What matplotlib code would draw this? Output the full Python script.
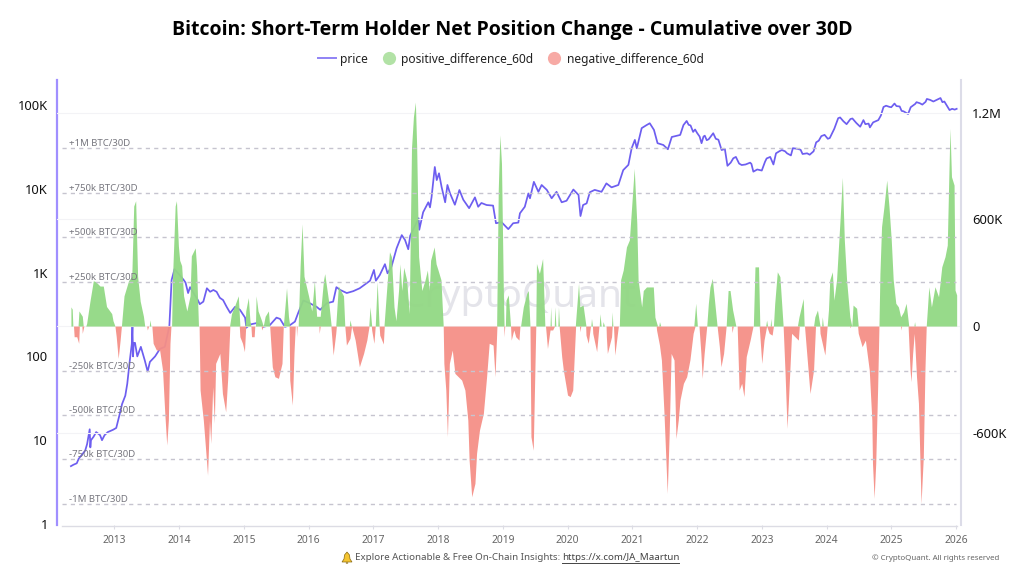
import matplotlib
matplotlib.use("Agg")
import matplotlib.pyplot as plt
from matplotlib.lines import Line2D
from matplotlib.patches import Polygon, Circle

plt.rcParams['font.family'] = ['Noto Sans', 'DejaVu Sans']

title = "Bitcoin: Short-Term Holder Net Position Change - Cumulative over 30D"
year_ticks = list(range(2013, 2027))
price_ticks = [1, 10, 100, 1000, 10000, 100000]
price_labels = ["1", "10", "100", "1K", "10K", "100K"]
net_ticks = [-600000, 0, 600000, 1200000]
net_labels = ["-600K", "0", "600K", "1.2M"]
ref_levels = [1000000, 750000, 500000, 250000, -250000, -500000, -750000, -1000000]
ref_labels = ["+1M BTC/30D", "+750k BTC/30D", "+500k BTC/30D", "+250k BTC/30D",
              "-250k BTC/30D", "-500k BTC/30D", "-750k BTC/30D", "-1M BTC/30D"]

price_dates = [2012.33,2012.37,2012.42,2012.45,2012.5,2012.55,2012.58,2012.6,2012.62,2012.63,2012.64,2012.68,2012.72,2012.78,2012.81,2012.85,2012.9,2012.98,
 2013.03,2013.08,2013.12,2013.17,2013.2,2013.24,2013.27,2013.28,2013.29,2013.3,2013.32,2013.355,2013.41,2013.47,2013.515,2013.55,2013.63,2013.705,2013.78,2013.85,2013.885,
 2013.93,2014.07,2014.1,2014.14,2014.17,2014.29,2014.32,2014.375,2014.43,2014.48,2014.53,2014.58,2014.63,2014.68,2014.735,2014.79,2014.865,2014.94,2015.02,2015.04,2015.095,2015.2,2015.30,2015.40,2015.505,2015.56,2015.635,2015.71,2015.79,2015.84,2015.92,
 2016.02,2016.125,2016.18,2016.28,2016.38,2016.43,2016.49,2016.59,2016.69,2016.79,2016.90,2016.95,2017.01,2017.04,2017.10,2017.18,2017.22,2017.28,2017.36,2017.44,2017.49,2017.54,2017.57,2017.70,2017.71,2017.77,2017.85,2017.876,2017.90,2017.95,2017.98,
 2018.015,2018.055,2018.11,2018.145,2018.185,2018.26,2018.33,2018.39,2018.48,2018.57,2018.62,2018.67,2018.75,2018.85,2018.895,2018.98,2019.085,2019.16,2019.24,2019.265,2019.34,2019.395,2019.42,2019.48,2019.55,2019.60,2019.68,2019.755,2019.83,2019.91,2019.985,
 2020.09,2020.17,2020.20,2020.24,2020.295,2020.345,2020.42,2020.525,2020.60,2020.68,2020.785,2020.86,2020.94,2020.99,2021.04,2021.07,2021.145,2021.22,2021.27,2021.335,2021.39,2021.48,2021.55,2021.61,2021.74,2021.79,2021.84,
 2021.87,2021.90,2021.94,2021.97,2022.0,2022.04,2022.07,2022.10,2022.12,2022.15,2022.18,2022.25,2022.29,2022.33,2022.38,2022.43,2022.47,2022.52,2022.56,2022.6,2022.65,2022.69,2022.75,2022.82,2022.84,2022.87,2022.93,
 2023.0,2023.05,2023.075,2023.13,2023.18,2023.22,2023.27,2023.31,2023.36,2023.39,2023.45,2023.48,2023.55,2023.6,2023.63,2023.7,2023.74,2023.80,2023.84,2023.88,2023.92,2023.97,
 2024.02,2024.05,2024.12,2024.18,2024.21,2024.26,2024.31,2024.37,2024.4,2024.46,2024.52,2024.57,2024.6,2024.65,2024.67,2024.72,2024.8,2024.84,2024.88,2024.92,2024.97,
 2025.0,2025.05,2025.08,2025.13,2025.16,2025.19,2025.26,2025.3,2025.37,2025.39,2025.44,2025.48,2025.53,2025.55,2025.6,2025.65,2025.7,2025.76,2025.79,2025.82,2025.87,2025.90,2025.94,2025.98,2026.01]
price_usd = [4.9,5.1,5.3,6,6.7,7.5,9,11,13.5,8.2,10,11,12.5,11.5,10,11.5,12.5,13.3,
 14,20,27,34,47,90,140,225,100,145,145,100,130,90,66,86,100,123,130,228,815,
 1100,820,760,570,670,470,420,450,650,590,620,590,500,470,390,330,390,360,290,220,240,250,225,235,290,280,225,235,260,330,465,
 430,390,360,430,450,670,620,570,600,650,750,800,1075,800,935,1260,980,1170,1950,2800,2450,1900,2750,4450,3240,5250,6900,6000,7950,18200,12700,
 15300,10500,6900,11100,8830,6450,9670,7400,5870,7900,6100,6770,6400,6300,3880,4000,3300,3880,3950,5100,6100,8800,7700,12100,9200,11100,9700,7700,9200,6900,7200,
 9800,8430,4730,6400,6700,9100,9700,9200,11600,10400,11100,16700,19300,30400,38300,30400,52900,57500,60500,50400,35000,33300,29600,41500,43900,57500,64500,
 58000,57000,47700,51000,46500,42000,35000,42000,43000,38000,39000,46000,39500,38500,29000,29800,18800,20500,23100,24000,20000,19200,19500,20500,19800,16000,17000,
 16500,21000,23000,24000,19500,26500,28000,29000,28000,26500,25000,30500,30000,29200,26000,26500,25500,28000,35800,37500,42500,44000,
 39500,40300,52000,69500,71000,64000,59000,68000,69000,61000,55000,66000,59000,60000,54000,62000,66000,75000,94600,98000,95000,
 94000,104000,97000,96000,85000,84000,78000,94000,103000,108000,105000,101000,109000,118000,115000,110000,115000,121000,108000,110000,95000,87000,90000,88000,90000]

pos_dates = [2012.33,2012.35,2012.36,2012.44,2012.454,2012.506,2012.52,2012.56,2012.573,2012.624,2012.676,2012.712,2012.78,2012.83,2012.88,2012.93,2012.96,2012.98,2013.01,
 2013.11,2013.15,2013.22,2013.27,2013.30,2013.33,2013.36,2013.40,2013.45,2013.47,2013.54,2013.55,2013.565,
 2013.885,2013.90,2013.94,2013.96,2013.99,2014.01,2014.04,2014.07,2014.12,2014.17,2014.19,2014.25,2014.27,2014.30,
 2014.78,2014.81,2014.86,2014.915,2014.94,2015.02,2015.03,2015.07,2015.095,2015.11,2015.18,2015.19,2015.22,2015.25,2015.275,2015.30,2015.33,2015.38,2015.40,
 2015.61,2015.66,2015.69,2015.71,2015.84,2015.87,2015.90,2015.93,2016.0,2016.05,2016.09,2016.125,2016.18,2016.23,2016.25,2016.31,2016.35,2016.42,2016.46,2016.54,2016.56,2016.63,2016.64,2016.66,
 2016.93,2016.95,2016.975,2017.03,2017.06,2017.09,2017.165,2017.205,2017.25,2017.28,2017.32,2017.35,2017.39,2017.41,2017.44,2017.47,2017.515,2017.555,2017.59,2017.62,2017.65,2017.67,2017.70,2017.75,2017.80,2017.835,2017.865,2017.885,2017.94,2017.97,2018.0,2018.045,2018.08,
 2018.905,2018.93,2018.955,2018.98,2019.01,2019.02,2019.04,2019.05,2019.085,2019.12,2019.275,2019.317,2019.37,2019.395,2019.42,2019.51,2019.52,2019.565,2019.615,2019.65,2019.73,2019.74,2019.75,2019.795,2019.805,2019.82,2019.85,2019.86,2019.875,
 2020.12,2020.13,2020.17,2020.19,2020.24,2020.285,2020.36,2020.37,2020.385,2020.49,2020.50,2020.52,2020.54,2020.55,2020.57,2020.68,2020.69,2020.70,
 2020.80,2020.82,2020.86,2020.91,2020.955,2020.99,2021.03,2021.07,2021.09,2021.145,2021.17,2021.22,2021.27,2021.325,2021.35,2021.39,2021.41,2021.42,2021.44,
 2021.95,2021.98,2022.005,2022.15,2022.175,2022.2,2022.236,2022.27,2022.31,2022.45,2022.48,2022.51,2022.55,2022.60,2022.87,2022.895,2022.95,2022.97,2023.06,2023.075,2023.09,2023.13,2023.14,2023.15,2023.18,2023.20,2023.24,2023.28,2023.33,
 2023.55,2023.575,2023.64,2023.655,2023.80,2023.82,2023.86,2023.90,2023.925,2023.935,2023.95,2024.01,2024.03,2024.05,2024.09,2024.115,2024.155,2024.21,2024.245,2024.275,2024.31,2024.36,2024.39,2024.41,2024.465,2024.49,
 2024.81,2024.825,2024.85,2024.887,2024.93,2024.965,2025.0,2025.03,2025.07,2025.11,2025.145,2025.19,2025.23,2025.27,2025.35,2025.36,2025.37,
 2025.54,2025.56,2025.58,2025.62,2025.675,2025.73,2025.78,2025.83,2025.865,2025.89,2025.907,2025.93,2025.97,2025.985,2026.01]
pos_k = [108,95,0,0,85,55,0,0,15,140,255,250,225,225,110,85,70,30,0,
 0,170,255,280,675,705,280,140,55,0,0,35,0,
 0,280,675,705,450,370,340,170,85,170,395,440,340,0,
 0,70,115,170,0,0,85,160,30,0,0,170,85,55,30,0,55,85,0,
 0,215,55,0,0,340,575,280,170,85,255,55,55,255,295,140,0,0,225,170,0,0,35,0,
 0,108,0,0,250,0,0,200,418,390,108,30,200,350,200,330,260,70,1000,1177,1260,1010,390,200,260,315,200,370,445,350,315,260,0,
 0,765,1075,915,165,0,0,146,175,0,0,108,184,200,0,0,352,296,380,0,0,108,0,0,108,0,0,108,0,
 0,50,240,108,118,0,0,43,0,0,70,0,0,25,0,0,80,0,
 0,260,315,445,484,670,887,577,260,108,200,220,220,220,50,0,0,25,0,
 0,128,0,0,128,220,268,146,0,0,200,200,90,0,0,333,333,0,0,34,0,0,43,0,0,128,305,278,0,
 0,52,155,0,0,52,90,0,0,52,0,0,90,260,305,146,260,605,836,484,260,52,0,118,100,0,
 0,296,559,671,821,671,484,260,128,108,52,80,128,0,0,25,0,
 0,108,221,108,221,165,333,390,455,858,1112,840,793,202,175]

neg_dates = [2012.37,2012.38,2012.42,2012.45,2012.46,2012.5,2012.505,2012.53,
 2013.01,2013.03,2013.06,2013.09,2013.11,2013.5,2013.51,2013.53,2013.58,2013.60,2013.65,2013.70,2013.745,2013.78,2013.81,2013.835,2013.86,2013.875,
 2014.31,2014.325,2014.375,2014.415,2014.44,2014.47,2014.49,2014.52,2014.545,2014.565,2014.63,2014.67,2014.72,2014.75,2014.785,
 2014.93,2014.94,2014.98,2015.01,2015.03,2015.11,2015.12,2015.16,2015.17,2015.27,2015.275,2015.30,
 2015.40,2015.44,2015.48,2015.535,2015.59,2015.61,2015.70,2015.71,2015.75,2015.775,2015.795,2015.81,2015.815,2015.825,
 2016.16,2016.165,2016.18,2016.345,2016.38,2016.42,2016.43,2016.56,2016.585,2016.64,2016.665,2016.72,2016.785,2016.85,2016.90,2016.935,
 2016.97,2016.975,2017.01,2017.03,2017.09,2017.10,2017.155,2017.17,
 2018.08,2018.09,2018.12,2018.145,2018.175,2018.22,2018.26,2018.365,2018.415,2018.46,2018.48,2018.52,2018.57,2018.595,2018.64,2018.70,2018.75,2018.79,2018.85,2018.88,2018.91,
 2019.015,2019.02,2019.03,2019.12,2019.13,2019.17,2019.2,2019.25,2019.265,2019.42,2019.435,2019.47,2019.51,
 2019.66,2019.69,2019.73,2019.77,2019.80,2019.87,2019.91,2019.935,2020.0,2020.04,2020.08,2020.125,2020.185,2020.19,2020.205,2020.28,2020.285,2020.32,2020.355,2020.385,2020.39,2020.45,2020.485,
 2020.595,2020.60,2020.615,2020.68,2020.69,2020.71,2020.73,2020.785,
 2021.37,2021.375,2021.42,2021.45,2021.49,2021.515,2021.54,2021.57,2021.60,2021.645,2021.675,2021.71,2021.737,2021.79,2021.84,2021.89,2021.94,2021.97,
 2022.03,2022.06,2022.08,2022.11,2022.15,2022.31,2022.345,2022.37,2022.41,2022.45,2022.535,2022.54,2022.56,2022.62,2022.65,2022.69,2022.725,2022.76,2022.82,2022.865,
 2022.96,2023.0,2023.035,2023.075,2023.115,2023.16,2023.18,2023.33,2023.36,2023.39,2023.41,2023.46,2023.565,2023.58,2023.66,2023.69,2023.745,2023.80,2023.83,2023.895,2023.90,2023.975,2024.01,
 2024.355,2024.36,2024.375,2024.48,2024.49,2024.55,2024.60,2024.66,2024.70,2024.71,2024.735,2024.76,2024.79,2024.81,
 2025.145,2025.15,2025.16,2025.26,2025.29,2025.305,2025.33,2025.355,2025.39,2025.42,2025.44,2025.46,2025.495,2025.52,2025.54]
neg_k = [0,60,60,97,0,0,41,0,
 0,60,182,79,0,0,22,0,0,97,135,135,247,491,669,529,97,0,
 0,360,529,716,838,529,660,341,547,210,154,379,482,304,0,
 0,60,97,144,0,0,60,60,0,0,22,0,
 0,229,285,294,210,0,0,304,444,154,0,0,60,0,
 0,41,0,0,163,41,0,0,107,69,0,79,229,154,79,0,
 0,22,97,0,0,51,101,0,
 0,210,360,622,210,135,266,304,360,529,754,960,885,716,585,491,285,97,107,285,0,
 0,60,0,0,79,22,60,79,0,0,622,698,0,
 0,126,22,22,0,0,172,247,388,397,360,0,0,32,0,0,51,97,0,0,41,144,0,
 0,60,154,60,0,0,163,0,
 0,22,107,191,491,716,941,604,154,191,632,529,416,322,285,191,41,0,
 0,154,294,154,0,0,116,229,154,0,0,37,0,0,360,322,397,172,79,0,
 0,210,79,0,41,51,0,0,266,575,435,41,79,0,0,135,379,247,0,0,41,163,0,
 0,8,0,0,41,116,79,247,529,772,969,772,341,0,
 0,22,0,0,247,313,154,41,285,435,716,998,735,247,0]

GREEN = "#92d884"
RED = "#f58f87"
PURPLE = "#6d5ef0"

fig = plt.figure(figsize=(10.24, 5.76), dpi=100, facecolor="white")
ax = fig.add_axes([57/1024, 1-525/576, (961-57)/1024, (525-80)/576], zorder=1)
ax.patch.set_alpha(0)
ax.set_xlim(2012.115, 2026.077)
ax.set_yscale("log")
ax.set_ylim(10**-0.012, 10**5.298)
ax.plot(price_dates, price_usd, color=PURPLE, lw=1.25, zorder=2)
ax.set_yticks(price_ticks)
ax.set_yticklabels(price_labels, fontsize=9.3, color="#111111")
ax.minorticks_off()
ax.tick_params(axis="y", length=0, pad=6.5)
ax.set_xticks(year_ticks)
ax.set_xticklabels([str(y) for y in year_ticks], fontsize=7.4, color="#666666")
ax.tick_params(axis="x", length=3, color="#dcdce4", pad=4, width=0.8)
for s in ["top", "right", "bottom"]:
    ax.spines[s].set_visible(False)
ax.spines["left"].set_color("#a08fff")
ax.spines["left"].set_linewidth(1.6)

ax2 = ax.twinx()
ax2.set_zorder(2)
ax2.patch.set_alpha(0)
ax2.set_ylim(-1119000, 1384000)
for v in net_ticks:
    ax2.axhline(v, color="#f3f3f6", lw=0.8, zorder=1)
ax2.fill_between(pos_dates, 0, [k*1000 for k in pos_k], color=GREEN, lw=0, alpha=0.95, zorder=3)
ax2.fill_between(neg_dates, 0, [-k*1000 for k in neg_k], color=RED, lw=0, alpha=0.95, zorder=3)
ax2.set_xlim(ax.get_xlim())
ax2.hlines(ref_levels, 2012.19, 2026.0, color="#c6c4cf", lw=1.0, linestyles=(0, (3, 3)), zorder=4)
for lv, lb in zip(ref_levels, ref_labels):
    ax2.annotate(lb, (2012.30, lv), xytext=(0, 0), textcoords="offset points",
                 fontsize=6.9, color="#77777f", va="bottom", zorder=5)
ax2.set_yticks(net_ticks)
ax2.set_yticklabels(net_labels, fontsize=9.3, color="#111111")
ax2.tick_params(axis="y", length=0, pad=8)
for s in ["top", "left", "bottom"]:
    ax2.spines[s].set_visible(False)
ax2.spines["right"].set_color("#dcdce8")
ax2.spines["right"].set_linewidth(1.5)

# bottom rule, watermark, title, legend and footer
fig.add_artist(Line2D([62/1024, 957/1024], [1-525.5/576]*2, color="#dcdce4", lw=1))
fig.text(519/1024, 1-297/576, "CryptoQuant", fontsize=28, color="#e4e4ea", ha="center", va="center", zorder=0)
fig.text(512/1024, 1-30/576, title, fontsize=14.05, fontweight="bold", family=["Open Sans", "DejaVu Sans"], color="black", ha="center", va="center")
handles = [Line2D([], [], color="#8f82f5", lw=1.4),
           Line2D([], [], ls="", marker="o", ms=9.5, mfc="#b2e2a6", mec="none"),
           Line2D([], [], ls="", marker="o", ms=9.5, mfc="#f7aaa5", mec="none")]
fig.legend(handles, ["price", "positive_difference_60d", "negative_difference_60d"],
           loc="center", bbox_to_anchor=(511/1024, 1-59/576), ncol=3, frameon=False,
           fontsize=8.6, handlelength=1.5, handletextpad=0.3, columnspacing=1.0, labelcolor="#222222")
fig.text(355/1024, 1-558/576, "Explore Actionable & Free On-Chain Insights: ", fontsize=7.0, color="#555555", va="center")
fig.text(562/1024, 1-558/576, "https://x.com/JA_Maartun", fontsize=7.0, color="#444444", va="center")
fig.add_artist(Line2D([562/1024, 679/1024], [1-563/576]*2, color="#444444", lw=0.7))
fig.text(999/1024, 1-558/576, "© CryptoQuant. All rights reserved", fontsize=5.7, color="#666666", va="center", ha="right")
bell = [(342, 562), (344, 559), (344.5, 555), (347, 552), (349.5, 555), (350, 559), (352, 562)]
fig.add_artist(Polygon([(x/1024, 1-y/576) for x, y in bell], closed=True, fc="#f5c531", ec="#8a6a10", lw=0.5, transform=fig.transFigure))
fig.add_artist(Circle((347/1024, 1-563/576), 0.0012, fc="#8a6a10", ec="none", transform=fig.transFigure))

fig.savefig("out.png", dpi=100)
